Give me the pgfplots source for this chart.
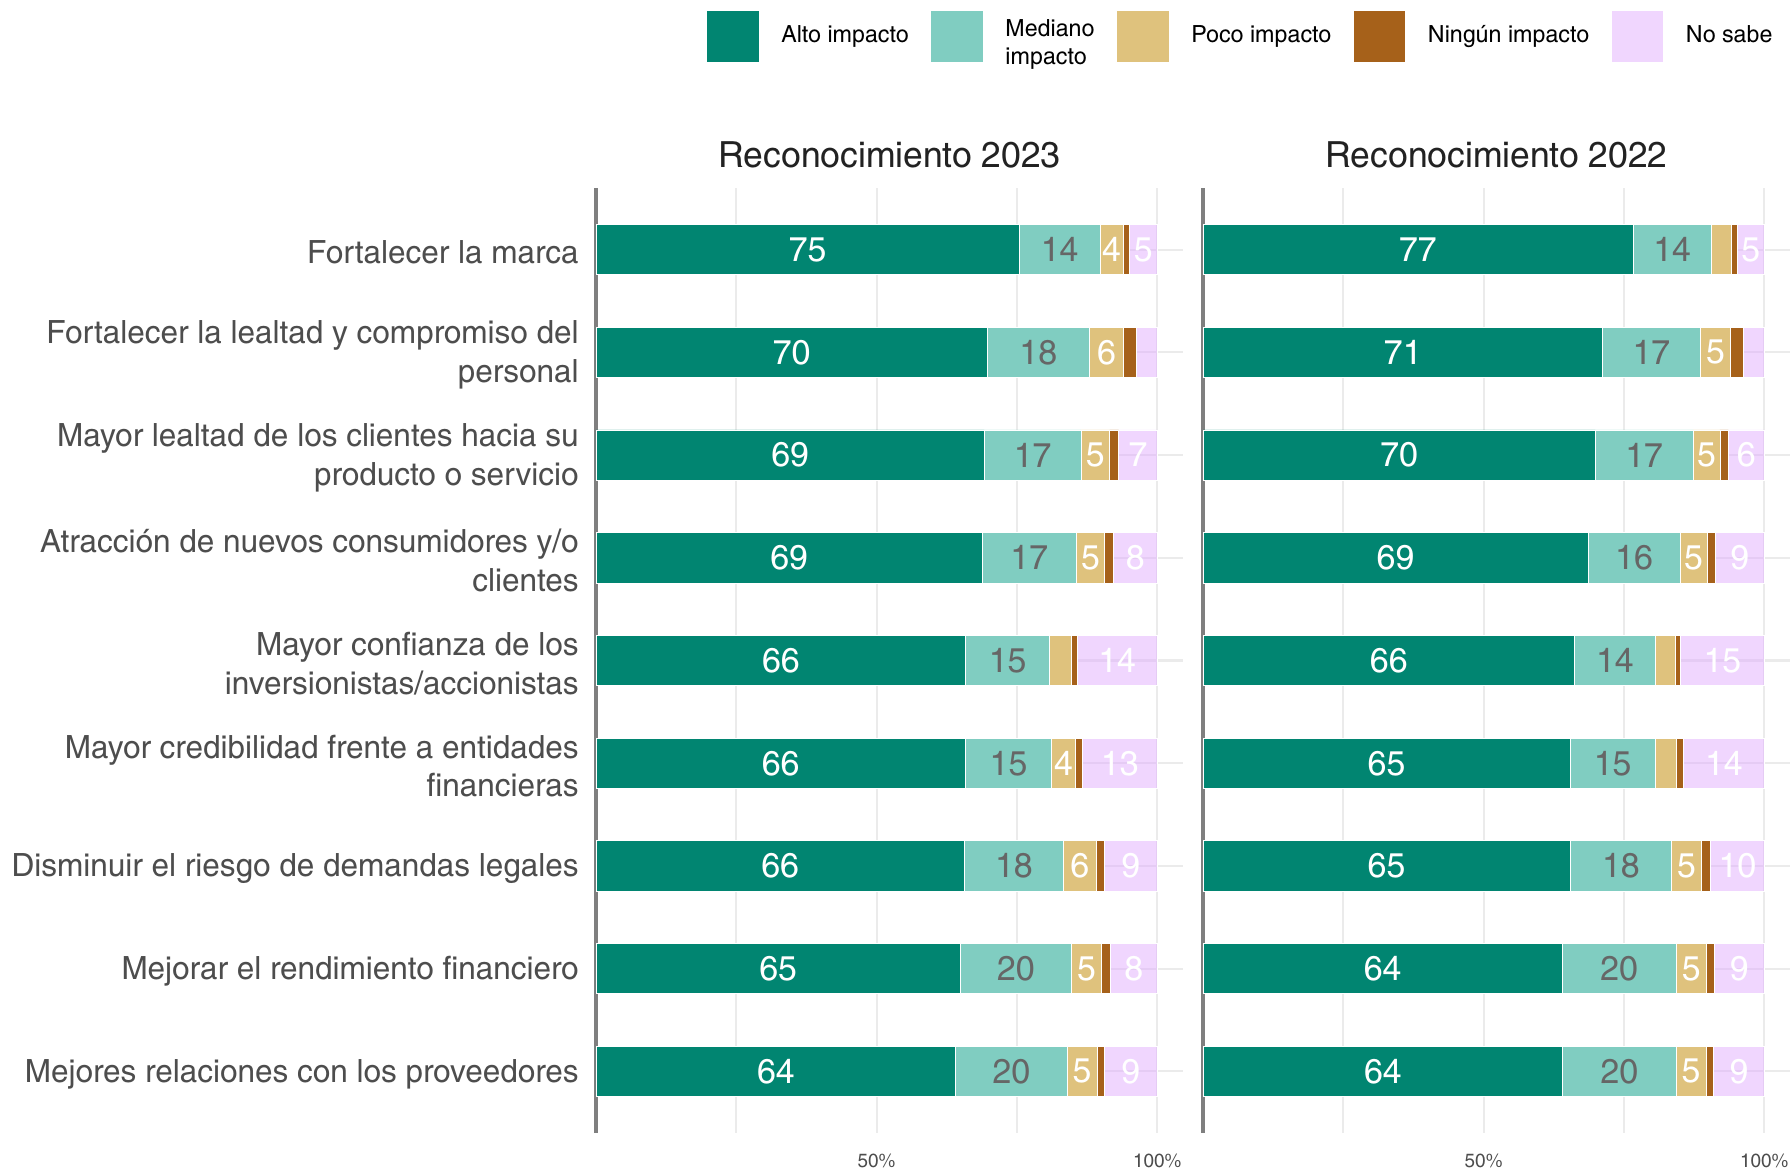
\documentclass[border=0pt]{standalone}
\usepackage{fontspec}
\setmainfont{texgyreheroscn}[Extension=.otf, UprightFont=*-regular, BoldFont=*-bold, FakeStretch=1.2]
\usepackage{pgfplots}
\pgfplotsset{compat=1.18}
\usepackage{pgfplotstable}

\definecolor{alto}{HTML}{018571}
\definecolor{mediano}{HTML}{80CDC1}
\definecolor{poco}{HTML}{DFC27D}
\definecolor{ningun}{HTML}{A6611A}
\definecolor{nosabe}{HTML}{E1ADFD}
\definecolor{gridc}{HTML}{EBEBEB}
\definecolor{axisc}{HTML}{7F7F7F}
\definecolor{labc}{HTML}{4D4D4D}
\definecolor{medlab}{HTML}{666666}
\definecolor{titc}{HTML}{222222}

% columns: y = row (1 = top), a = alto, m = mediano, p = poco, n = ningun, s = no sabe
\pgfplotstableread{
y a    m    p   n   s
1 75.4 14.4 4.1 1.1 5.0
2 69.7 18.2 6.1 2.2 3.8
3 69.2 17.2 5.1 1.6 6.9
4 68.8 16.8 5.0 1.6 7.8
5 65.9 14.9 3.9 1.0 14.3
6 65.8 15.4 4.2 1.2 13.4
7 65.6 17.7 5.8 1.5 9.4
8 64.9 19.8 5.4 1.5 8.4
9 64.1 19.8 5.4 1.3 9.4
}\tabA

\pgfplotstableread{
y a    m    p   n   s
1 76.6 14.0 3.5 1.1 4.8
2 71.2 17.4 5.4 2.2 3.8
3 69.9 17.4 4.8 1.5 6.4
4 68.6 16.4 4.8 1.5 8.7
5 66.2 14.4 3.5 1.0 14.9
6 65.4 15.2 3.8 1.2 14.4
7 65.4 18.1 5.3 1.6 9.6
8 64.0 20.3 5.4 1.4 8.9
9 64.1 20.2 5.3 1.4 9.0
}\tabB

\pgfplotsset{
  panel/.style={
    scale only axis, x=1.4032pt, height=236.25pt,
    xmin=0, xmax=104.6, ymin=0.4, ymax=9.6, y dir=reverse,
    xbar stacked, bar width=0.49,
    axis y line*=left, axis x line*=bottom,
    x axis line style={draw=none},
    y axis line style={draw=axisc, line width=0.85pt, -},
    xtick={0,25,50,75,100}, xticklabels={,,50\%,,100\%},
    ytick={1,...,9},
    major tick length=0pt,
    xmajorgrids, ymajorgrids,
    grid style={draw=gridc, line width=0.55pt},
    /pgf/number format/assume math mode=true,
    xticklabel style={font=\fontsize{4.8}{5.5}\selectfont, text=labc, yshift=-1.7pt},
    yticklabel style={font=\fontsize{8}{9.7}\selectfont, text=labc, align=right, xshift=-0.8pt, yshift=-0.7pt},
    title style={font=\fontsize{9}{10}\selectfont, text=titc, at={(0.5,1.036)}, anchor=center, yshift=-6.3pt},
    clip=false,
  },
  seg/.style 2 args={
    fill=#1, draw=white, line width=0.2pt,
    visualization depends on={rawx \as \aval},
    nodes near coords={\ifdim\aval pt<3.95pt\else\pgfmathprintnumber[fixed,precision=0]{\aval}\fi},
    every node near coord/.append style={anchor=center,
      text=#2, fill opacity=1, text opacity=1, font=\fontsize{8.6}{9}\selectfont},
  },
}

\begin{document}
\begin{tikzpicture}
\path[use as bounding box] (0,0) rectangle (447.75pt,-292.75pt);

\begin{axis}[panel, at={(149pt,-47pt)}, anchor=north west,
  title={Reconocimiento 2023},
  yticklabels={Fortalecer la marca,
    {Fortalecer la lealtad y compromiso del\\personal},
    {Mayor lealtad de los clientes hacia su\\producto o servicio},
    {Atracción de nuevos consumidores y/o\\clientes},
    {Mayor confianza de los\\inversionistas/accionistas},
    {Mayor credibilidad frente a entidades\\financieras},
    Disminuir el riesgo de demandas legales,
    Mejorar el rendimiento financiero,
    Mejores relaciones con los proveedores},
]
\addplot[seg={alto}{white}] table[x=a, y=y]{\tabA};
\addplot[seg={mediano}{medlab}] table[x=m, y=y]{\tabA};
\addplot[seg={poco}{white}] table[x=p, y=y]{\tabA};
\addplot[seg={ningun}{white}] table[x=n, y=y]{\tabA};
\addplot[seg={nosabe}{white}, fill opacity=0.5] table[x=s, y=y]{\tabA};
\end{axis}

\begin{axis}[panel, at={(300.75pt,-47pt)}, anchor=north west,
  title={Reconocimiento 2022},
  yticklabels={},
  legend columns=5,
  legend image code/.code={\path[#1, draw=none] (0pt,-6.4pt) rectangle (12.8pt,6.4pt);},
  legend style={at={(0.985,1.16)}, anchor=east, draw=none, fill=none, inner sep=0pt,
    font=\fontsize{5.9}{7}\selectfont, text=black, column sep=3.7pt,
    cells={anchor=west}},
]
\addplot[seg={alto}{white}] table[x=a, y=y]{\tabB};
\addlegendentry{Alto impacto}
\addplot[seg={mediano}{medlab}] table[x=m, y=y]{\tabB};
\addlegendentry{\begin{tabular}{@{}l@{}}Mediano\\impacto\end{tabular}}
\addplot[seg={poco}{white}] table[x=p, y=y]{\tabB};
\addlegendentry{Poco impacto}
\addplot[seg={ningun}{white}] table[x=n, y=y]{\tabB};
\addlegendentry{Ningún impacto}
\addplot[seg={nosabe}{white}, fill opacity=0.5] table[x=s, y=y]{\tabB};
\addlegendentry{No sabe}
\end{axis}
\end{tikzpicture}
\end{document}
